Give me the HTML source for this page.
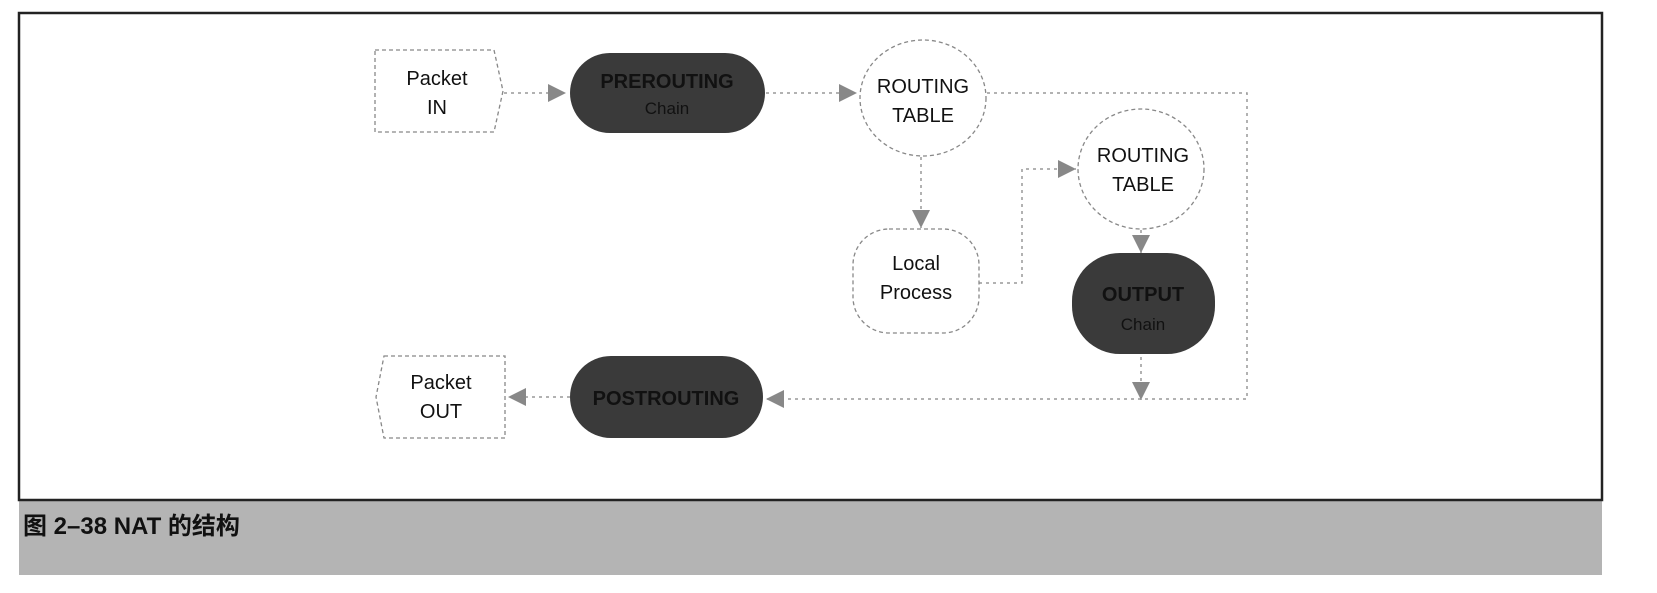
<!DOCTYPE html>
<html><head><meta charset="utf-8"><style>
html,body{margin:0;padding:0;background:#fff;}
svg{display:block;}
text{font-family:"Liberation Sans","Noto Sans CJK SC",sans-serif;}
</style></head><body>
<svg width="1657" height="593" viewBox="0 0 1657 593" xmlns="http://www.w3.org/2000/svg">
<defs>
<marker id="a" viewBox="0 0 10 10" refX="10" refY="5" markerWidth="22" markerHeight="18" markerUnits="userSpaceOnUse" orient="auto">
<path d="M0,0 L10,5 L0,10 Z" fill="#888"/></marker>
</defs>
<rect x="0" y="0" width="1657" height="593" fill="#fff"/>
<rect x="19" y="500" width="1583" height="75" fill="#b4b4b4"/>
<rect x="19" y="13" width="1583" height="487" fill="#fff" stroke="#222" stroke-width="2.5"/>
<text x="23" y="534" font-size="24" font-weight="bold" fill="#111">图 2–38  NAT 的结构</text>

<g stroke="#999" stroke-width="1.5" stroke-dasharray="3,4" fill="none">
<line x1="504" y1="93" x2="566" y2="93" marker-end="url(#a)"/>
<line x1="766" y1="93" x2="857" y2="93" marker-end="url(#a)"/>
<polyline points="987,93 1247,93 1247,399 766,399" marker-end="url(#a)"/>
<line x1="921" y1="157" x2="921" y2="228" marker-end="url(#a)"/>
<polyline points="979,283 1022,283 1022,169 1076,169" marker-end="url(#a)"/>
<line x1="1141" y1="230" x2="1141" y2="253" marker-end="url(#a)"/>
<line x1="1141" y1="357" x2="1141" y2="400" marker-end="url(#a)"/>
<line x1="570" y1="397" x2="508" y2="397" marker-end="url(#a)"/>
</g>

<g stroke="#888" stroke-width="1.3" stroke-dasharray="4,3" fill="#fff">
<polygon points="375,50 494,50 503,91 494,132 375,132"/>
<polygon points="384,356 505,356 505,438 384,438 376,397"/>
<ellipse cx="923" cy="98" rx="63" ry="58"/>
<ellipse cx="1141" cy="169" rx="63" ry="60"/>
<rect x="853" y="229" width="126" height="104" rx="36"/>
</g>
<g fill="#3a3a3a">
<rect x="570" y="53" width="195" height="80" rx="40"/>
<rect x="570" y="356" width="193" height="82" rx="41"/>
<rect x="1072" y="253" width="143" height="101" rx="48"/>
</g>

<g font-size="20" fill="#111" text-anchor="middle">
<text x="437" y="85">Packet</text><text x="437" y="114">IN</text>
<text x="441" y="389">Packet</text><text x="441" y="418">OUT</text>
<text x="923" y="93">ROUTING</text><text x="923" y="122">TABLE</text>
<text x="1143" y="162">ROUTING</text><text x="1143" y="191">TABLE</text>
<text x="916" y="270">Local</text><text x="916" y="299">Process</text>
<text x="667" y="88" font-weight="bold">PREROUTING</text>
<text x="667" y="114" font-size="17">Chain</text>
<text x="1143" y="301" font-weight="bold">OUTPUT</text>
<text x="1143" y="330" font-size="17">Chain</text>
<text x="666" y="405" font-weight="bold">POSTROUTING</text>
</g>
</svg>
</body></html>
